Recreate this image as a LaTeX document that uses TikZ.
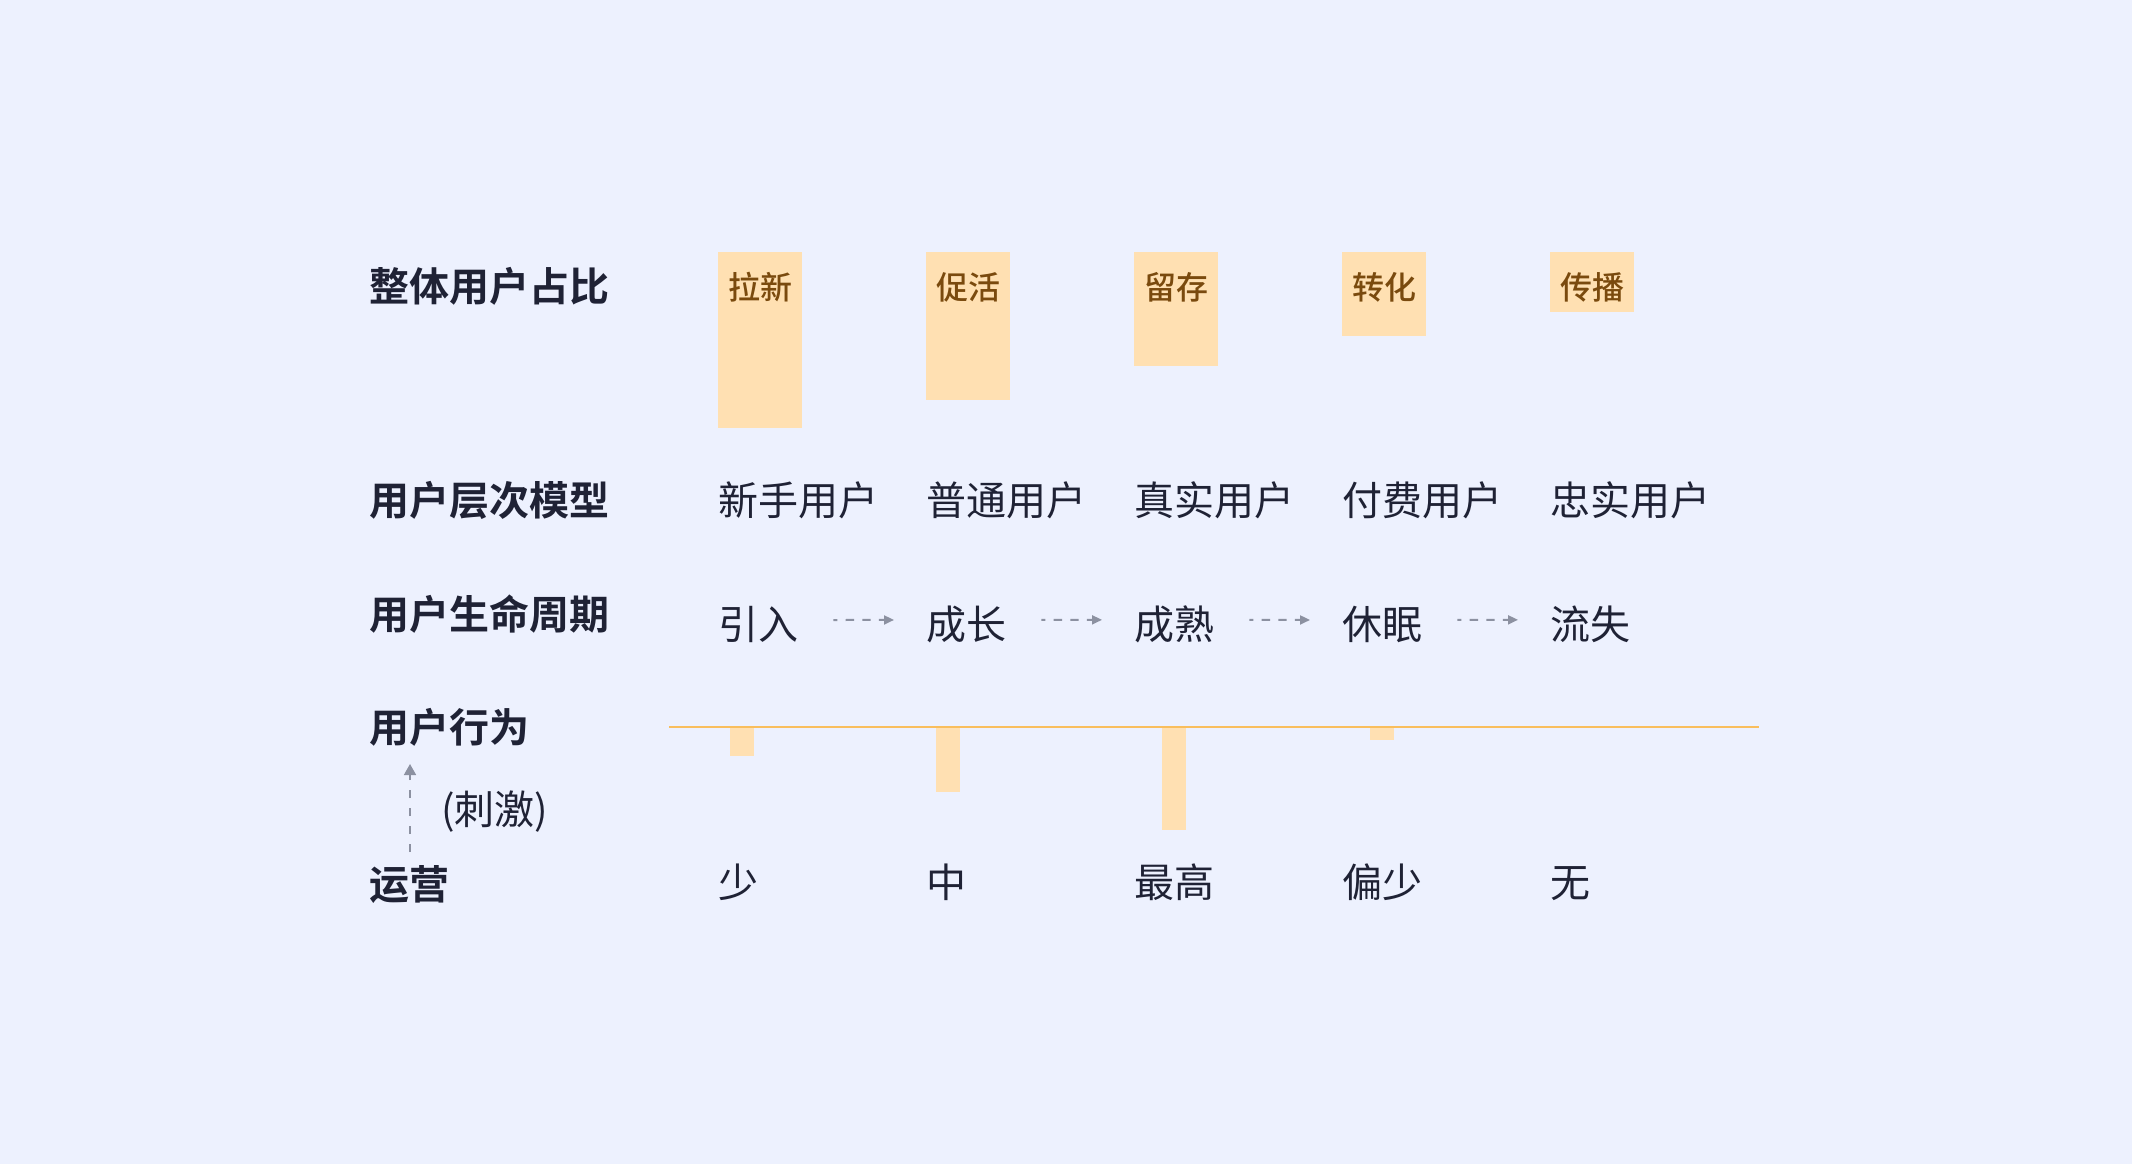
\documentclass[tikz,border=0pt]{standalone}
\usepackage{fontspec}
\setmainfont{Noto Sans CJK SC}[BoldFont={Noto Sans CJK SC Bold}]
\newfontfamily\medfont{Noto Sans CJK SC Medium}
\usetikzlibrary{arrows.meta}
\definecolor{bg}{HTML}{EDF1FE}
\definecolor{ink}{HTML}{1F2235}
\definecolor{barfill}{HTML}{FFE0B2}
\definecolor{bartext}{HTML}{7A4A0E}
\definecolor{lineor}{HTML}{F9BE5D}
\definecolor{arrgray}{HTML}{8C91A1}
\tikzset{
  rowlabel/.style={anchor=base west,inner sep=0pt,text=ink,font=\fontsize{40}{40}\selectfont\bfseries},
  item/.style={anchor=base west,inner sep=0pt,text=ink,font=\fontsize{40}{40}\selectfont},
  barlabel/.style={anchor=base,inner sep=0pt,text=bartext,font=\fontsize{32}{32}\selectfont\medfont},
  topbar/.style={fill=barfill,draw=none},
  hangbar/.style={fill=barfill,draw=none},
  flowarr/.style={draw=arrgray,line width=2pt,dash pattern=on 8.3pt off 8.3pt,dash phase=4.3pt,-{Triangle[length=10pt,width=9pt]}},
  uparr/.style={draw=arrgray,line width=1.6pt,dash pattern=on 8pt off 10pt,-{Triangle[length=11pt,width=12pt]}},
}
\begin{document}
\begin{tikzpicture}[x=1pt,y=-1pt]
\fill[bg] (0,0) rectangle (2132,1164);
\useasboundingbox (0,0) rectangle (2132,1164);

% row labels
\node[rowlabel] (r1) at (369,301) {整体用户占比};
\node[rowlabel] (r2) at (369,515) {用户层次模型};
\node[rowlabel] (r3) at (369,629) {用户生命周期};
\node[rowlabel] (r4) at (369,742) {用户行为};
\node[rowlabel] (r5) at (369,899) {运营};
\node[item] (ci) at (441,824) {(刺激)};

% top bars
\fill[topbar] (718,252) rectangle (802,428);
\fill[topbar] (926,252) rectangle (1010,400);
\fill[topbar] (1134,252) rectangle (1218,366);
\fill[topbar] (1342,252) rectangle (1426,336);
\fill[topbar] (1550,252) rectangle (1634,312);
\node[barlabel] (b1) at (760,299) {拉新};
\node[barlabel] (b2) at (968,299) {促活};
\node[barlabel] (b3) at (1176,299) {留存};
\node[barlabel] (b4) at (1384,299) {转化};
\node[barlabel] (b5) at (1592,299) {传播};

% user layer model
\node[item] (m1) at (718,515) {新手用户};
\node[item] (m2) at (926,515) {普通用户};
\node[item] (m3) at (1134,515) {真实用户};
\node[item] (m4) at (1342,515) {付费用户};
\node[item] (m5) at (1550,515) {忠实用户};

% lifecycle
\node[item] (l1) at (718,639) {引入};
\node[item] (l2) at (926,639) {成长};
\node[item] (l3) at (1134,639) {成熟};
\node[item] (l4) at (1342,639) {休眠};
\node[item] (l5) at (1550,639) {流失};
\draw[flowarr] ([xshift=35pt,yshift=4pt]l1.east) -- ([xshift=-32pt,yshift=4pt]l2.west);
\draw[flowarr] ([xshift=35pt,yshift=4pt]l2.east) -- ([xshift=-32pt,yshift=4pt]l3.west);
\draw[flowarr] ([xshift=35pt,yshift=4pt]l3.east) -- ([xshift=-32pt,yshift=4pt]l4.west);
\draw[flowarr] ([xshift=35pt,yshift=4pt]l4.east) -- ([xshift=-32pt,yshift=4pt]l5.west);

% behaviour line and hanging bars
\coordinate (lnA) at (669,727);
\coordinate (lnB) at (1759,727);
\fill[hangbar] (730,728) rectangle (754,756);
\fill[hangbar] (936,728) rectangle (960,792);
\fill[hangbar] (1162,728) rectangle (1186,830);
\fill[hangbar] (1370,728) rectangle (1394,740);
\draw[draw=lineor,line width=2.2pt] (lnA) -- (lnB);

% operation
\node[item] (o1) at (718,897) {少};
\node[item] (o2) at (926,897) {中};
\node[item] (o3) at (1134,897) {最高};
\node[item] (o4) at (1342,897) {偏少};
\node[item] (o5) at (1550,897) {无};

% stimulus arrow
\coordinate (upA) at (410,852);
\coordinate (upB) at (410,764);
\draw[uparr] (upA) -- (upB);
\end{tikzpicture}
\end{document}
